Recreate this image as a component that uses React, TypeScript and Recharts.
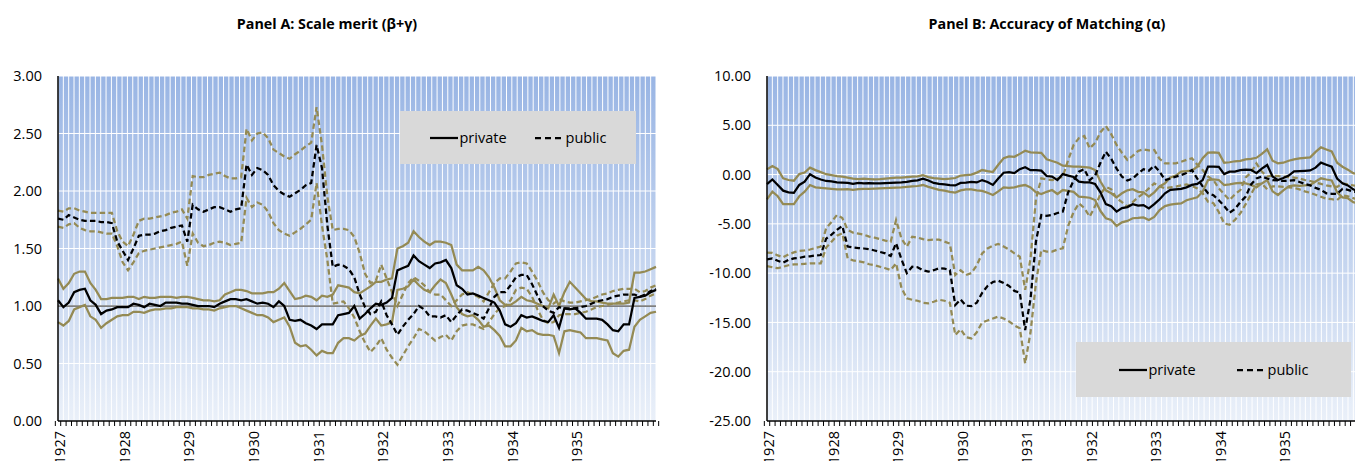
import React from 'react';
import { LineChart, Line, XAxis, YAxis, CartesianGrid, ReferenceLine } from 'recharts';

const N = 112;
const yearLabels = ['1927', '1928', '1929', '1930', '1931', '1932', '1933', '1934', '1935'];
const months: string[] = Array.from({ length: N }, (_, i) => `${1927 + Math.floor(i / 12)}-${String((i % 12) + 1).padStart(2, '0')}`);

// Panel A: Scale merit (beta+gamma)
const aPriv = [
  1.05, 0.99, 1.03, 1.12, 1.14, 1.15, 1.05, 1.01, 0.93, 0.96,
  0.97, 0.99, 0.99, 0.99, 1.02, 1.01, 0.99, 1.02, 1.01, 1.00,
  1.03, 1.03, 1.03, 1.02, 1.02, 1.01, 1.00, 1.00, 1.00, 0.99,
  1.02, 1.04, 1.06, 1.06, 1.05, 1.06, 1.04, 1.02, 1.03, 1.02,
  0.99, 1.04, 1.00, 0.88, 0.87, 0.88, 0.85, 0.83, 0.80, 0.84,
  0.84, 0.84, 0.92, 0.93, 0.94, 1.00, 0.89, 0.93, 0.98, 1.02,
  1.01, 1.03, 1.07, 1.31, 1.33, 1.35, 1.44, 1.39, 1.36, 1.33,
  1.37, 1.38, 1.40, 1.33, 1.18, 1.15, 1.10, 1.11, 1.09, 1.07,
  1.05, 1.03, 0.96, 0.84, 0.82, 0.85, 0.92, 0.90, 0.91, 0.89,
  0.87, 0.86, 0.92, 0.81, 0.98, 0.97, 0.98, 0.94, 0.89, 0.89,
  0.89, 0.88, 0.84, 0.79, 0.78, 0.84, 0.84, 1.07, 1.08, 1.09,
  1.12, 1.14,
];
const aPrivHi = [
  1.24, 1.15, 1.20, 1.28, 1.30, 1.30, 1.20, 1.14, 1.06, 1.06,
  1.07, 1.07, 1.07, 1.08, 1.08, 1.06, 1.08, 1.07, 1.07, 1.08,
  1.08, 1.08, 1.07, 1.08, 1.08, 1.07, 1.06, 1.05, 1.05, 1.04,
  1.05, 1.10, 1.12, 1.14, 1.14, 1.13, 1.11, 1.11, 1.11, 1.12,
  1.12, 1.15, 1.20, 1.13, 1.06, 1.07, 1.09, 1.08, 1.05, 1.09,
  1.08, 1.10, 1.18, 1.17, 1.16, 1.12, 1.11, 1.14, 1.17, 1.21,
  1.21, 1.23, 1.24, 1.50, 1.52, 1.55, 1.65, 1.60, 1.56, 1.53,
  1.56, 1.56, 1.55, 1.53, 1.36, 1.31, 1.31, 1.31, 1.34, 1.31,
  1.25, 1.16, 1.05, 1.01, 1.01, 1.04, 1.08, 1.05, 1.04, 1.02,
  1.00, 0.98, 1.10, 1.00, 1.12, 1.21, 1.16, 1.11, 1.06, 1.04,
  1.04, 1.03, 1.02, 1.02, 1.02, 1.02, 1.03, 1.29, 1.29, 1.30,
  1.32, 1.34,
];
const aPrivLo = [
  0.86, 0.83, 0.87, 0.97, 0.99, 1.01, 0.91, 0.88, 0.81, 0.85,
  0.88, 0.91, 0.92, 0.92, 0.95, 0.95, 0.94, 0.96, 0.97, 0.97,
  0.98, 0.98, 0.99, 0.99, 0.99, 0.98, 0.98, 0.97, 0.97, 0.96,
  0.98, 0.99, 1.00, 1.00, 0.98, 0.96, 0.94, 0.92, 0.92, 0.90,
  0.86, 0.88, 0.90, 0.82, 0.68, 0.65, 0.66, 0.62, 0.57, 0.61,
  0.59, 0.59, 0.68, 0.72, 0.72, 0.70, 0.74, 0.76, 0.83, 0.89,
  0.83, 0.84, 0.86, 1.14, 1.15, 1.17, 1.23, 1.18, 1.14, 1.12,
  1.18, 1.23, 1.20, 1.10, 0.99, 0.93, 0.91, 0.92, 0.88, 0.82,
  0.83, 0.79, 0.74, 0.65, 0.65, 0.70, 0.81, 0.78, 0.79, 0.76,
  0.75, 0.75, 0.74, 0.59, 0.78, 0.79, 0.78, 0.77, 0.72, 0.72,
  0.72, 0.71, 0.70, 0.59, 0.56, 0.61, 0.62, 0.82, 0.88, 0.91,
  0.94, 0.95,
];
const aPub = [
  1.76, 1.75, 1.79, 1.77, 1.75, 1.74, 1.74, 1.74, 1.73, 1.73,
  1.72, 1.56, 1.48, 1.40, 1.50, 1.61, 1.62, 1.62, 1.63, 1.65,
  1.66, 1.68, 1.69, 1.70, 1.56, 1.88, 1.84, 1.82, 1.84, 1.86,
  1.86, 1.84, 1.82, 1.84, 1.85, 2.23, 2.14, 2.20, 2.18, 2.14,
  2.05, 2.00, 1.97, 1.95, 1.98, 2.01, 2.05, 2.07, 2.40, 2.20,
  1.70, 1.34, 1.36, 1.35, 1.32, 1.25, 1.10, 0.99, 0.93, 0.95,
  1.04, 0.92, 0.84, 0.75, 0.82, 0.88, 0.93, 1.00, 0.97, 0.91,
  0.91, 0.90, 0.92, 0.86, 0.92, 0.97, 0.96, 0.94, 0.92, 0.89,
  0.98, 1.08, 1.12, 1.12, 1.18, 1.25, 1.27, 1.27, 1.19, 1.09,
  1.00, 0.96, 0.94, 0.99, 0.98, 0.98, 0.98, 0.99, 1.00, 1.02,
  1.04, 1.05, 1.06, 1.08, 1.09, 1.10, 1.10, 1.10, 1.08, 1.10,
  1.13, 1.15,
];
const aPubHi = [
  1.83, 1.82, 1.85, 1.85, 1.83, 1.82, 1.81, 1.81, 1.81, 1.81,
  1.81, 1.65, 1.56, 1.52, 1.62, 1.74, 1.76, 1.76, 1.77, 1.78,
  1.79, 1.81, 1.82, 1.84, 1.76, 2.13, 2.12, 2.12, 2.14, 2.15,
  2.16, 2.13, 2.11, 2.11, 2.12, 2.54, 2.44, 2.50, 2.51, 2.46,
  2.36, 2.33, 2.30, 2.28, 2.32, 2.35, 2.39, 2.42, 2.73, 2.40,
  1.95, 1.66, 1.67, 1.67, 1.66, 1.60, 1.46, 1.28, 1.20, 1.22,
  1.36, 1.24, 1.12, 1.00, 1.10, 1.20, 1.25, 1.22, 1.18, 1.12,
  1.10, 1.10, 1.05, 1.00, 1.05, 1.10, 1.12, 1.10, 1.08, 1.04,
  1.12, 1.20, 1.24, 1.24, 1.30, 1.37, 1.38, 1.37, 1.30, 1.22,
  1.12, 1.05, 1.02, 1.06, 1.04, 1.03, 1.03, 1.04, 1.05, 1.06,
  1.08, 1.10, 1.11, 1.13, 1.14, 1.15, 1.15, 1.15, 1.12, 1.13,
  1.16, 1.18,
];
const aPubLo = [
  1.69, 1.68, 1.71, 1.72, 1.68, 1.66, 1.65, 1.65, 1.64, 1.63,
  1.63, 1.52, 1.38, 1.31, 1.38, 1.46, 1.48, 1.49, 1.50, 1.51,
  1.52, 1.53, 1.54, 1.56, 1.35, 1.63, 1.55, 1.52, 1.53, 1.55,
  1.56, 1.55, 1.53, 1.54, 1.55, 1.94, 1.86, 1.90, 1.88, 1.82,
  1.72, 1.66, 1.63, 1.61, 1.64, 1.67, 1.71, 1.75, 2.07, 1.70,
  1.40, 1.02, 1.03, 1.04, 0.98, 0.90, 0.78, 0.68, 0.60, 0.65,
  0.72, 0.62, 0.55, 0.49, 0.57, 0.65, 0.72, 0.80, 0.78, 0.74,
  0.70, 0.73, 0.75, 0.70, 0.78, 0.83, 0.84, 0.84, 0.82, 0.80,
  0.86, 0.93, 0.98, 1.00, 1.05, 1.14, 1.16, 1.15, 1.08, 0.97,
  0.88, 0.85, 0.86, 0.92, 0.93, 0.93, 0.93, 0.94, 0.95, 0.97,
  0.99, 1.00, 1.01, 1.02, 1.03, 1.04, 1.05, 1.05, 1.04, 1.06,
  1.09, 1.11,
];

// Panel B: Accuracy of Matching (alpha)
const bPriv = [
  -0.96, -0.50, -1.05, -1.63, -1.80, -1.85, -1.05, -0.72, 0.04, -0.30,
  -0.50, -0.65, -0.70, -0.80, -0.82, -0.85, -0.95, -0.85, -0.90, -0.88,
  -0.90, -0.90, -0.88, -0.85, -0.82, -0.80, -0.75, -0.65, -0.58, -0.42,
  -0.60, -0.85, -0.95, -1.00, -1.08, -1.10, -0.85, -0.82, -0.75, -0.80,
  -0.56, -0.75, -1.05, -0.40, 0.19, 0.25, 0.15, 0.55, 0.74, 0.45,
  0.46, 0.40, -0.15, -0.21, -0.56, 0.05, -0.10, -0.25, -0.72, -0.80,
  -0.80, -0.96, -1.80, -3.00, -3.20, -3.76, -3.40, -3.30, -3.00, -3.15,
  -3.10, -3.43, -3.00, -2.50, -1.90, -1.55, -1.49, -1.45, -1.30, -1.05,
  -0.95, -0.56, 0.80, 0.80, 0.78, 0.05, 0.30, 0.30, 0.45, 0.50,
  0.48, 0.15, 0.60, 0.97, -0.20, -0.56, -0.35, -0.10, 0.32, 0.35,
  0.38, 0.42, 0.70, 1.21, 1.00, 0.80, -0.40, -0.89, -1.10, -1.50,
  -1.73, -1.90,
];
const bPrivHi = [
  0.53, 0.87, 0.55, -0.38, -0.55, -0.62, 0.05, 0.20, 0.70, 0.45,
  0.25, 0.04, -0.05, -0.15, -0.20, -0.30, -0.40, -0.45, -0.42, -0.45,
  -0.48, -0.45, -0.40, -0.35, -0.30, -0.30, -0.25, -0.20, -0.18, -0.07,
  -0.25, -0.35, -0.40, -0.45, -0.42, -0.35, -0.10, -0.05, 0.00, 0.20,
  0.46, 0.35, 0.26, 1.00, 1.65, 1.85, 1.80, 2.10, 2.42, 2.25,
  2.22, 2.20, 1.55, 1.38, 1.20, 0.90, 0.85, 0.80, 0.80, 0.75,
  0.70, 0.46, -0.70, -1.60, -1.90, -2.31, -1.90, -1.60, -1.49, -1.75,
  -1.80, -2.24, -1.80, -1.20, -0.89, -0.30, -0.10, 0.30, 0.35, 0.40,
  0.80, 1.65, 2.22, 2.25, 2.20, 1.20, 1.25, 1.35, 1.40, 1.55,
  1.60, 1.70, 2.10, 2.56, 1.40, 1.14, 1.20, 1.40, 1.55, 1.65,
  1.70, 1.75, 2.30, 2.76, 2.55, 2.35, 1.20, 0.80, 0.50, 0.15,
  0.00, -0.10,
];
const bPrivLo = [
  -2.51, -1.74, -2.20, -2.99, -3.00, -3.00, -2.20, -1.74, -1.06, -1.30,
  -1.35, -1.40, -1.45, -1.50, -1.50, -1.48, -1.55, -1.48, -1.45, -1.45,
  -1.42, -1.40, -1.38, -1.35, -1.32, -1.30, -1.25, -1.20, -1.16, -1.06,
  -1.25, -1.40, -1.55, -1.63, -1.75, -1.83, -1.60, -1.50, -1.50, -1.60,
  -1.65, -1.85, -2.07, -1.70, -1.30, -1.35, -1.30, -1.15, -1.06, -1.30,
  -1.80, -1.97, -1.75, -1.57, -1.97, -1.57, -1.65, -1.75, -2.24, -2.30,
  -2.35, -2.58, -3.70, -4.43, -4.60, -5.22, -4.85, -4.70, -4.43, -4.40,
  -4.35, -4.60, -4.30, -3.60, -3.20, -3.05, -2.98, -2.92, -2.60, -2.45,
  -2.31, -1.74, -0.56, -0.50, -0.55, -1.06, -1.00, -0.90, -0.85, -0.90,
  -1.05, -1.30, -0.90, -0.56, -1.70, -2.07, -1.60, -1.20, -1.10, -1.15,
  -1.10, -1.06, -0.70, -0.38, -0.50, -0.60, -1.80, -2.31, -2.40, -2.80,
  -2.92, -3.00,
];
const bPub = [
  -8.60, -8.50, -8.75, -8.94, -8.65, -8.50, -8.45, -8.33, -8.30, -8.20,
  -8.16, -6.50, -6.10, -5.60, -5.22, -7.30, -7.40, -7.45, -7.50, -7.56,
  -7.70, -7.85, -8.00, -8.26, -6.97, -8.60, -10.00, -9.35, -9.40, -9.70,
  -9.85, -9.70, -9.50, -9.55, -9.70, -13.23, -12.67, -13.30, -13.35, -13.00,
  -12.00, -11.30, -10.90, -10.77, -11.00, -11.30, -11.80, -11.98, -15.77, -12.60,
  -6.80, -4.10, -4.20, -4.10, -3.90, -3.76, -1.80, -0.60, 0.29, 0.55,
  -0.56, -0.10, 1.20, 2.32, 1.60, 0.60, -0.21, -0.60, -0.40, 0.10,
  0.55, 0.40, 0.90, 0.30, -0.56, -0.40, -0.21, -0.05, 0.15, 0.46,
  -0.40, -1.20, -1.90, -2.10, -2.60, -3.19, -3.87, -3.50, -2.80, -2.24,
  -1.00, -0.40, -0.20, -0.40, -0.56, -0.60, -0.65, -0.62, -0.56, -0.75,
  -0.95, -1.10, -1.35, -1.55, -1.90, -1.95, -1.97, -1.45, -1.55, -1.73,
  -1.80, -1.85,
];
const bPubHi = [
  -7.92, -7.95, -8.20, -8.39, -8.10, -7.90, -7.75, -7.70, -7.60, -7.45,
  -7.31, -5.45, -4.80, -4.10, -4.40, -5.60, -5.90, -6.00, -6.10, -6.30,
  -6.40, -6.55, -6.70, -6.81, -4.61, -6.50, -7.31, -6.30, -6.40, -6.55,
  -6.64, -6.60, -6.60, -6.80, -7.00, -10.19, -9.70, -10.19, -10.00, -9.20,
  -8.00, -7.50, -7.20, -7.04, -7.30, -7.60, -8.00, -8.33, -11.70, -8.50,
  -2.50, -0.38, -0.50, -0.56, -0.40, -0.21, 1.48, 3.00, 3.70, 3.91,
  2.66, 3.20, 4.30, 4.93, 4.10, 3.00, 2.20, 1.48, 1.90, 2.40,
  2.56, 2.45, 2.49, 1.60, 1.14, 1.14, 1.14, 1.30, 1.50, 1.65,
  1.00, 0.46, -0.20, -0.55, -1.40, -2.00, -2.58, -2.00, -1.57, -0.30,
  0.20, 1.14, 0.30, -0.20, -0.10, -0.15, -0.20, -0.25, -0.30, -0.40,
  -0.55, -0.65, -0.80, -0.95, -1.10, -1.20, -1.25, -0.90, -1.00, -1.10,
  -1.15, -1.20,
];
const bPubLo = [
  -9.28, -9.40, -9.50, -9.35, -9.20, -9.10, -9.10, -9.05, -9.00, -9.00,
  -9.00, -7.40, -6.81, -6.20, -5.96, -8.50, -8.70, -8.80, -8.90, -9.10,
  -9.20, -9.35, -9.50, -9.68, -9.00, -11.50, -12.55, -12.70, -12.80, -13.00,
  -13.06, -12.90, -12.70, -12.80, -13.00, -16.28, -15.70, -16.50, -16.62, -16.00,
  -15.00, -14.80, -14.60, -14.41, -14.60, -14.90, -15.30, -15.60, -19.15, -16.00,
  -11.00, -7.65, -7.82, -7.82, -7.60, -7.48, -5.20, -3.80, -2.92, -3.40,
  -4.27, -3.20, -2.00, -1.23, -1.50, -2.40, -2.80, -3.26, -2.80, -2.30,
  -1.90, -1.40, -0.89, -1.20, -1.40, -1.30, -1.23, -1.10, -1.00, -1.15,
  -1.40, -1.90, -2.75, -2.90, -3.80, -4.95, -5.10, -4.60, -3.94, -3.00,
  -2.00, -1.00, -0.90, -1.50, -1.20, -1.20, -1.25, -1.30, -1.35, -1.50,
  -1.70, -1.85, -2.05, -2.25, -2.45, -2.50, -2.58, -2.10, -2.20, -2.40,
  -2.50, -2.55,
];

const aTicks = [0, 0.5, 1, 1.5, 2, 2.5, 3];
const bTicks = [-25, -20, -15, -10, -5, 0, 5, 10];

const dataA = months.map((m, i) => ({ m, priv: aPriv[i], privHi: aPrivHi[i], privLo: aPrivLo[i], pub: aPub[i], pubHi: aPubHi[i], pubLo: aPubLo[i] }));
const dataB = months.map((m, i) => ({ m, priv: bPriv[i], privHi: bPrivHi[i], privLo: bPrivLo[i], pub: bPub[i], pubHi: bPubHi[i], pubLo: bPubLo[i] }));

const FONT = "'Open Sans', 'Noto Sans', sans-serif";
const OLIVE = '#948A54';
const DASH = '5.5 3.2';
const LW = 2.25;
const PLOT_W = 598;
const TICK_FS = 14.5;

const XTick = (props: any) => {
  const { x, y, payload, index } = props;
  const step = PLOT_W / N;
  const v: string = payload.value;
  const yr = v.slice(0, 4);
  const label = v.endsWith('-01') && yearLabels.includes(yr) ? yr : '';
  return (
    <g>
      <line x1={x - step / 2} y1={y} x2={x - step / 2} y2={y + 5} stroke="#000" strokeWidth={1} />
      {index === N - 1 && <line x1={x + step / 2} y1={y} x2={x + step / 2} y2={y + 5} stroke="#000" strokeWidth={1} />}
      {label && (
        <text transform={`translate(${x + 1.5},${y + 10}) rotate(-90)`} textAnchor="end" dominantBaseline="central" fontSize={TICK_FS} fontFamily={FONT} fill="#000">
          {label}
        </text>
      )}
    </g>
  );
};

const vGen = ({ offset }: any) => Array.from({ length: N + 1 }, (_, k) => offset.left + (offset.width * k) / N);

function Panel({ data, id, domain, ticks, yWidth, marginRight, refOne }: any) {
  return (
    <LineChart width={670} height={461} data={data} margin={{ top: 76, right: marginRight, bottom: 4, left: 8 }}>
      <defs>
        <linearGradient id={id} x1="0" y1="0" x2="0" y2="1">
          <stop offset="0%" stopColor="#99B5E4" />
          <stop offset="100%" stopColor="#EAF0F9" />
        </linearGradient>
      </defs>
      <CartesianGrid fill={`url(#${id})`} fillOpacity={1} stroke="#FFFFFF" strokeWidth={1} verticalCoordinatesGenerator={vGen} yAxisId="l" />
      <XAxis dataKey="m" interval={0} tick={<XTick />} tickLine={false} tickSize={0} tickMargin={0} height={36} axisLine={{ stroke: '#000', strokeWidth: 1.5 }} />
      <XAxis xAxisId="top" dataKey="m" orientation="top" height={0} tick={false} tickLine={false} axisLine={{ stroke: '#3A4558', strokeWidth: 1 }} />
      <YAxis yAxisId="l" domain={domain} ticks={ticks} interval={0} width={yWidth} tickLine={false} tickSize={0} tickMargin={16}
        tickFormatter={(v: number) => v.toFixed(2)} tick={{ fontSize: TICK_FS, fontFamily: FONT, fill: '#000' }}
        axisLine={{ stroke: '#000', strokeWidth: 1.5 }} allowDataOverflow />
      <YAxis yAxisId="r" orientation="right" domain={domain} ticks={ticks} width={0} tick={false} tickLine={false} axisLine={{ stroke: '#3A4558', strokeWidth: 1 }} />
      {refOne && <ReferenceLine yAxisId="l" y={1} stroke="#7F7F7F" strokeWidth={1.75} />}
      <Line yAxisId="l" dataKey="privHi" stroke={OLIVE} strokeWidth={LW} dot={false} isAnimationActive={false} />
      <Line yAxisId="l" dataKey="privLo" stroke={OLIVE} strokeWidth={LW} dot={false} isAnimationActive={false} />
      <Line yAxisId="l" dataKey="pubHi" stroke={OLIVE} strokeWidth={LW} strokeDasharray={DASH} dot={false} isAnimationActive={false} />
      <Line yAxisId="l" dataKey="pubLo" stroke={OLIVE} strokeWidth={LW} strokeDasharray={DASH} dot={false} isAnimationActive={false} />
      <Line yAxisId="l" dataKey="priv" stroke="#000" strokeWidth={LW} dot={false} isAnimationActive={false} />
      <Line yAxisId="l" dataKey="pub" stroke="#000" strokeWidth={LW} strokeDasharray={DASH} dot={false} isAnimationActive={false} />
    </LineChart>
  );
}

function LegendBox({ left, top, width, height, gap }: any) {
  return (
    <div style={{ position: 'absolute', left, top, width, height, background: '#D9D9D9', display: 'flex', alignItems: 'center', justifyContent: 'center', fontFamily: FONT, fontSize: 14.5, color: '#000' }}>
      <svg width={28} height={6} style={{ display: 'block' }}><line x1={0} y1={3} x2={28} y2={3} stroke="#000" strokeWidth={2.25} /></svg>
      <span style={{ marginLeft: 2 }}>private</span>
      <svg width={27} height={6} style={{ display: 'block', marginLeft: gap }}><line x1={0} y1={3} x2={27} y2={3} stroke="#000" strokeWidth={2.25} strokeDasharray="6 4" /></svg>
      <span style={{ marginLeft: 4 }}>public</span>
    </div>
  );
}

export default function App() {
  return (
    <div style={{ position: 'fixed', left: 0, top: 0, width: 1355, height: 461, overflow: 'hidden', background: '#FFFFFF' }}>
      <div style={{ position: 'absolute', left: 0, top: 0 }}>
        <Panel data={dataA} id="bgA" domain={[0, 3]} ticks={aTicks} yWidth={50} marginRight={14} refOne />
      </div>
      <div style={{ position: 'absolute', left: 700, top: 0 }}>
        <Panel data={dataB} id="bgB" domain={[-25, 10]} ticks={bTicks} yWidth={59} marginRight={6} />
      </div>
      <div style={{ position: 'absolute', left: 127, width: 400, top: 14, textAlign: 'center', fontFamily: FONT, fontWeight: 700, fontSize: 14.3, color: '#000' }}>
        Panel A: Scale merit (β+γ)
      </div>
      <div style={{ position: 'absolute', left: 847, width: 400, top: 14, textAlign: 'center', fontFamily: FONT, fontWeight: 700, fontSize: 14.3, color: '#000' }}>
        Panel B: Accuracy of Matching (α)
      </div>
      <LegendBox left={400} top={111} width={236} height={53} gap={28} />
      <LegendBox left={1076} top={342} width={275} height={55} gap={41} />
    </div>
  );
}
